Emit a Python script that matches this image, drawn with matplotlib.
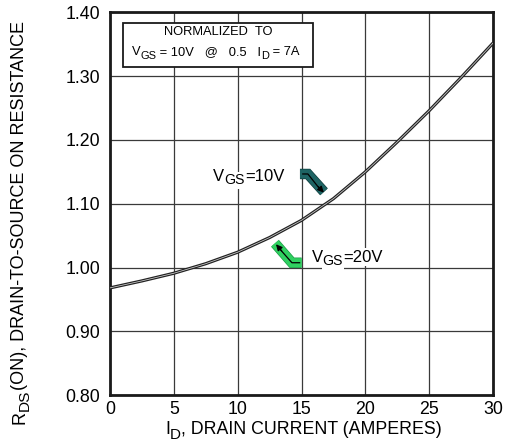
import matplotlib
matplotlib.use("Agg")
import matplotlib.pyplot as plt
import matplotlib.patheffects as pe
from matplotlib.patches import Rectangle

plt.rcParams['font.family'] = ['Liberation Sans', 'DejaVu Sans']

# Data
current = [0, 2.5, 5, 7.5, 10, 12.5, 15, 17.5, 20, 22.5, 25, 27.5, 30]
rds_on = [0.968, 0.979, 0.991, 1.006, 1.024, 1.047, 1.074, 1.108, 1.150,
          1.197, 1.246, 1.298, 1.352]
x_ticks = [0, 5, 10, 15, 20, 25, 30]
y_ticks = [0.80, 0.90, 1.00, 1.10, 1.20, 1.30, 1.40]
y_tick_labels = ["0.80", "0.90", "1.00", "1.10", "1.20", "1.30", "1.40"]

SUB_SCALE = 0.85
DROP = 0.26
DESC = 0.21


def rich(ax, x, y, parts, fs, transform, rotated=False, bg=None, zorder=8):
    """parts: list of (string, is_subscript). Text chained left to right."""
    kw = dict(fontsize=fs, zorder=zorder)
    if bg:
        kw['bbox'] = dict(facecolor=bg, edgecolor='none', pad=0.8)
    first = None
    prev = None
    for s, is_sub in parts:
        f = fs * SUB_SCALE if is_sub else fs
        k = dict(kw)
        k['fontsize'] = f
        if first is None:
            if rotated:
                first = ax.text(x, y, s, transform=transform, rotation=90,
                                ha='right', va='bottom', clip_on=False, **k)
            else:
                first = ax.text(x, y, s, transform=transform,
                                ha='left', va='baseline', clip_on=False, **k)
            prev = first
            continue
        off = (DESC * fs - DESC * f - DROP * fs) if is_sub else 0.0
        if rotated:
            t = ax.annotate(s, xy=(1, 1), xycoords=(first, prev),
                            xytext=(-off, 0), textcoords='offset points',
                            rotation=90, ha='right', va='bottom',
                            annotation_clip=False, **k)
        else:
            t = ax.annotate(s, xy=(1, 0), xycoords=(prev, first),
                            xytext=(0, off), textcoords='offset points',
                            ha='left', va='bottom', annotation_clip=False, **k)
        prev = t
    return first


fig = plt.figure(figsize=(5.09, 4.46), dpi=100)
ax = fig.add_axes([0.2161, 0.1143, 0.7525, 0.8577])
ax.set_xlim(0, 30)
ax.set_ylim(0.80, 1.40)
ax.set_xticks(x_ticks)
ax.set_yticks(y_ticks)
ax.set_yticklabels(y_tick_labels)
ax.tick_params(length=0, labelsize=12.8)
ax.tick_params(axis='y', pad=7)
ax.tick_params(axis='x', pad=4)
ax.grid(True, color='#3a3a3a', lw=0.9)
ax.set_axisbelow(True)
for s in ax.spines.values():
    s.set_linewidth(2.0)
    s.set_color('#1a1a1a')

# curve: double line
ax.plot(current, rds_on, color='#222222', lw=2.3, zorder=3, solid_capstyle='butt')
ax.plot(current, rds_on, color='#d0d0d0', lw=0.55, zorder=4, solid_capstyle='butt')

# teal arrow (VGS=10V)
teal_x = [14.88, 15.5, 16.76]
teal_y = [1.1467, 1.1467, 1.1187]
ax.plot(teal_x, teal_y, color='#1e6464', lw=6.5, solid_capstyle='butt',
        solid_joinstyle='miter', zorder=5,
        path_effects=[pe.Stroke(linewidth=7.5, foreground='#0f3e3e'), pe.Normal()])
ax.plot([15.1, 15.5, 16.5], [1.1467, 1.1467, 1.1215], color='black', lw=0.9, zorder=6)
ax.annotate('', xy=(16.75, 1.1175), xytext=(16.3, 1.127),
            arrowprops=dict(arrowstyle='-|>', color='black', lw=0.9,
                            mutation_scale=9, shrinkA=0, shrinkB=0), zorder=7)

# green arrow (VGS=20V)
green_x = [15.01, 14.25, 12.92]
green_y = [1.0075, 1.0075, 1.038]
ax.plot(green_x, green_y, color='#2fd060', lw=6.5, solid_capstyle='butt',
        solid_joinstyle='miter', zorder=5,
        path_effects=[pe.Stroke(linewidth=7.5, foreground='#1a9a45'), pe.Normal()])
ax.plot([14.85, 14.25, 13.3], [1.0075, 1.0075, 1.029], color='black', lw=0.9, zorder=6)
ax.annotate('', xy=(13.0, 1.0365), xytext=(13.45, 1.026),
            arrowprops=dict(arrowstyle='-|>', color='black', lw=0.9,
                            mutation_scale=9, shrinkA=0, shrinkB=0), zorder=7)

rich(ax, 8.09, 1.1362, [('V', False), ('GS', True), ('=10V', False)], 12,
     ax.transData, bg='white')
rich(ax, 15.79, 1.0093, [('V', False), ('GS', True), ('=20V', False)], 12,
     ax.transData, bg='white')

# normalization box
ax.add_patch(Rectangle((1.04, 1.315), 14.88, 0.0685, facecolor='white',
                       edgecolor='#1a1a1a', lw=1.3, zorder=8))
ax.text(8.48, 1.3644, 'NORMALIZED  TO', fontsize=9.3, ha='center', va='baseline', zorder=9)
rich(ax, 1.70, 1.3333, [('V', False), ('GS', True), (' = 10V   @   0.5   I', False),
                        ('D', True), (' = 7A', False)], 9.3, ax.transData, zorder=9)

# axis labels
rich(ax, 165 / 509, 1 - 434 / 446,
     [('I', False), ('D', True), (', DRAIN CURRENT (AMPERES)', False)], 12.8,
     fig.transFigure)
rich(ax, 28.0 / 509, 1 - 424 / 446,
     [('R', False), ('DS', True), ('(ON), DRAIN-TO-SOURCE ON RESISTANCE', False)], 13.0,
     fig.transFigure, rotated=True)

fig.savefig('out.png', dpi=100)
